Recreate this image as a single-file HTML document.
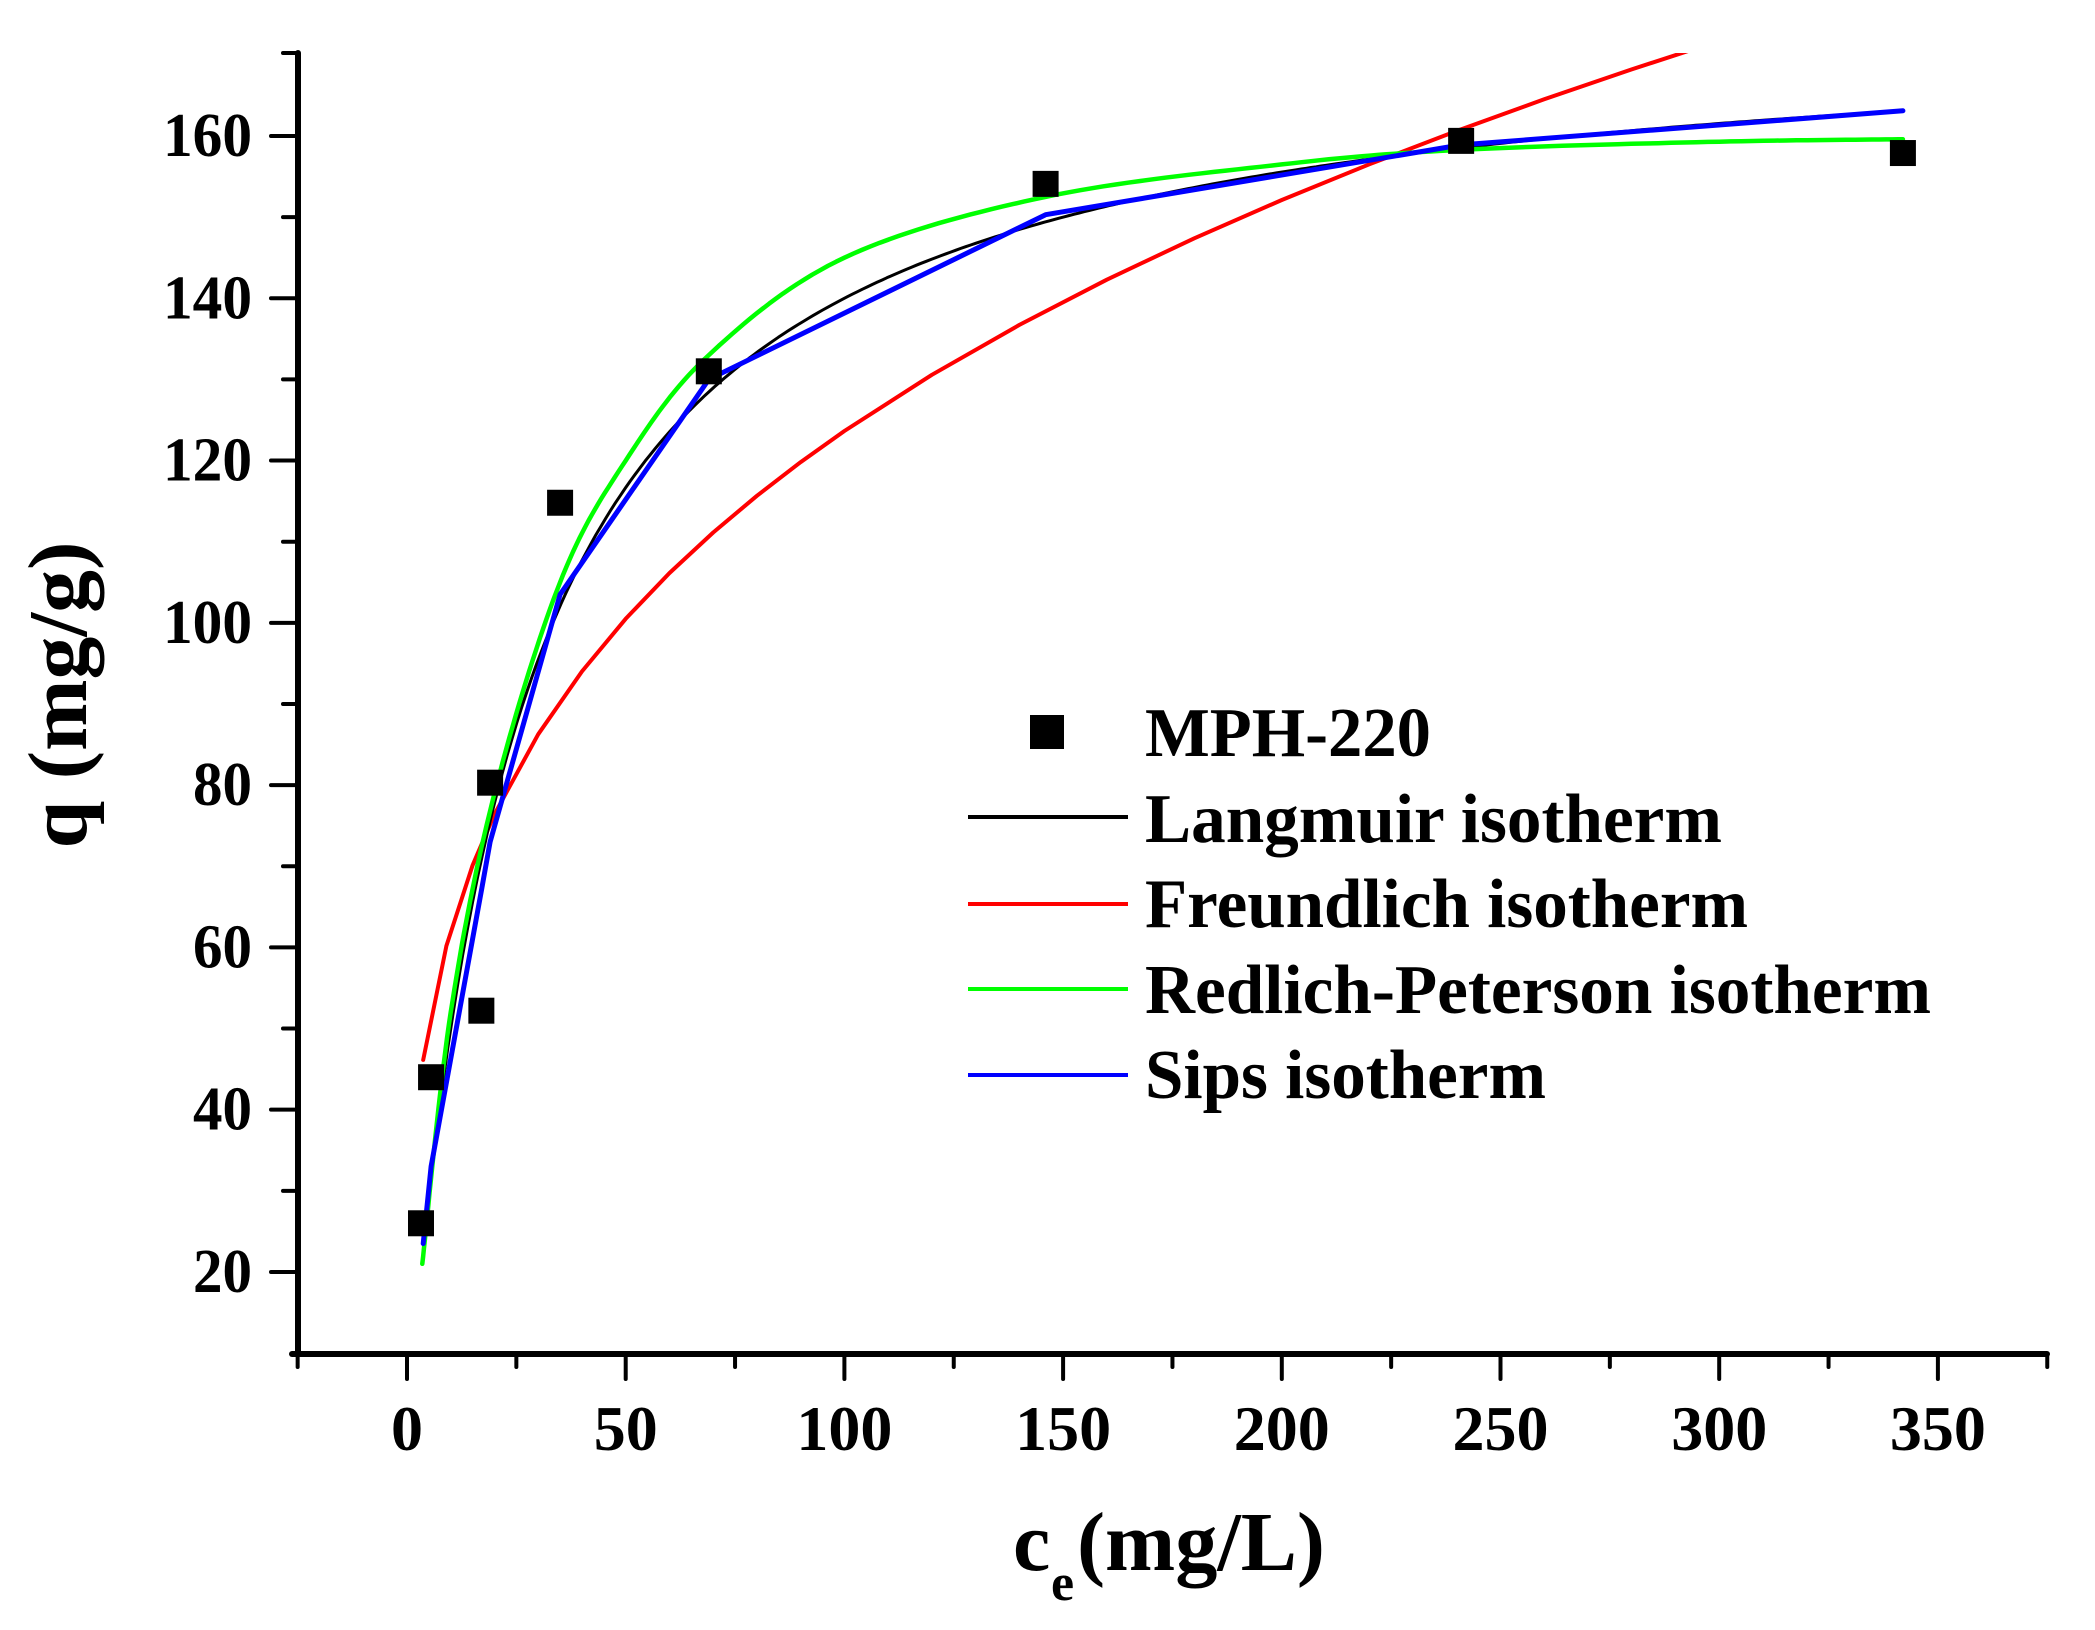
<!DOCTYPE html>
<html><head><meta charset="utf-8"><style>
html,body{margin:0;padding:0;background:#fff;}
svg{display:block;}
text{font-family:"Liberation Serif",serif;font-weight:bold;fill:#000;}
</style></head><body>
<svg id="s" width="2095" height="1630" viewBox="0 0 2095 1630" xmlns="http://www.w3.org/2000/svg">
<defs><clipPath id="c"><rect x="298" y="53" width="1750" height="1301"/></clipPath></defs>
<g id="axes" stroke="#000" stroke-linecap="round"></g>
<g id="curves" clip-path="url(#c)" fill="none" stroke-width="4" stroke-linejoin="round" stroke-linecap="round"></g>
<g id="pts"></g>
<g id="labels"></g>
<text x="1013" y="1570" font-size="84">c</text>
<text x="1051" y="1600" font-size="52">e</text>
<text x="1077" y="1570" font-size="84" textLength="248" lengthAdjust="spacingAndGlyphs">(mg/L)</text>
<text transform="translate(86,695) rotate(-90)" text-anchor="middle" font-size="84" textLength="307" lengthAdjust="spacingAndGlyphs">q (mg/g)</text>
<rect x="1030" y="715" width="34" height="34" fill="#000"/>
<text x="1145" y="756" font-size="70" textLength="286" lengthAdjust="spacingAndGlyphs">MPH-220</text>
<line x1="968" y1="817" x2="1128" y2="817" stroke="#000" stroke-width="4"/>
<text x="1145" y="842" font-size="70" textLength="577" lengthAdjust="spacingAndGlyphs">Langmuir isotherm</text>
<line x1="968" y1="904" x2="1128" y2="904" stroke="#f00" stroke-width="4"/>
<text x="1145" y="927" font-size="70" textLength="603" lengthAdjust="spacingAndGlyphs">Freundlich isotherm</text>
<line x1="968" y1="989" x2="1128" y2="989" stroke="#0f0" stroke-width="4"/>
<text x="1145" y="1013" font-size="70" textLength="786" lengthAdjust="spacingAndGlyphs">Redlich-Peterson isotherm</text>
<line x1="968" y1="1075" x2="1128" y2="1075" stroke="#00f" stroke-width="4"/>
<text x="1145" y="1098" font-size="70" textLength="401" lengthAdjust="spacingAndGlyphs">Sips isotherm</text>
</svg>
<script>
var NS="http://www.w3.org/2000/svg";
function X(c){return 407+4.374*c;}
function Y(q){return 136+(160-q)*8.114;}
function el(p,t,a,txt){var e=document.createElementNS(NS,t);for(var k in a)e.setAttribute(k,a[k]);if(txt!==undefined)e.textContent=txt;document.getElementById(p).appendChild(e);return e;}
el("axes","line",{x1:298,y1:53,x2:298,y2:1354,"stroke-width":6});
el("axes","line",{x1:292,y1:1354,x2:2047,y2:1354,"stroke-width":6});
el("axes","line",{x1:283,y1:53,x2:298,y2:53,"stroke-width":4});
for(var q=20;q<=160;q+=10){var y=Y(q);var maj=(q%20==0);
 el("axes","line",{x1:maj?271:283,y1:y,x2:298,y2:y,"stroke-width":4});
 if(maj)el("labels","text",{x:252,y:y+20,"font-size":62,"text-anchor":"end",textLength:(q>=100?89:59),lengthAdjust:"spacingAndGlyphs"},String(q));}
for(var c=-25;c<=375;c+=25){var x=X(c);var maj=(c%50==0);
 el("axes","line",{x1:x,y1:1354,x2:x,y2:maj?1379:1367,"stroke-width":4});
 if(maj)el("labels","text",{x:x,y:1450,"font-size":64,"text-anchor":"middle"},String(c));}
function path(pts,color,w){var d="";pts.forEach(function(p,i){d+=(i?"L":"M")+X(p[0]).toFixed(1)+","+Y(p[1]).toFixed(1);});el("curves","path",{d:d,stroke:color,"stroke-width":w||4});}
function fn(f,a,b,n){var r=[];for(var i=0;i<=n;i++){var c=a+(b-a)*i/n;r.push([c,f(c)]);}return r;}
var fr=[];var cs=[3.7,9,15,20,30,40,50,60,70,80,90,100,120,140,160,180,200,220,240,260,280,300];
cs.forEach(function(c){fr.push([c,31.2*Math.pow(c,0.299)]);});
path(fr,"#f00",4);
path(fn(function(c){return 175*0.04*c/(1+0.04*c);},3.7,342,300),"#000",3);
var gp=[[3.5,21],[10,52],[20,79],[35,105],[50,120],[69,133],[100,145],[146,152.5],[200,156.5],[241,158.3],[300,159.3],[342,159.6]];
function cr(P,n){var r=[];for(var i=0;i<P.length-1;i++){var p0=P[Math.max(0,i-1)],p1=P[i],p2=P[i+1],p3=P[Math.min(P.length-1,i+2)];
 for(var j=0;j<n;j++){var t=j/n,t2=t*t,t3=t2*t;var f=function(a,b,c,d){return 0.5*((2*b)+(-a+c)*t+(2*a-5*b+4*c-d)*t2+(-a+3*b-3*c+d)*t3);};
 r.push([f(p0[0],p1[0],p2[0],p3[0]),f(p0[1],p1[1],p2[1],p3[1])]);}}r.push(P[P.length-1]);return r;}
path(cr(gp,20),"#0f0",4.5);
path([[3.7,23.5],[5.5,33],[17,67],[19,73],[35,103.5],[69,130],[146,150.3],[241,158.9],[342,163.1]],"#00f",5);
[[3.2,26],[5.5,44],[17,52.2],[19,80.3],[35,114.8],[69,131],[146,154.1],[241,159.4],[342,157.9]].forEach(function(p){
 el("pts","rect",{x:X(p[0])-13,y:Y(p[1])-13,width:26,height:26,fill:"#000"});});
</script>
</body></html>
